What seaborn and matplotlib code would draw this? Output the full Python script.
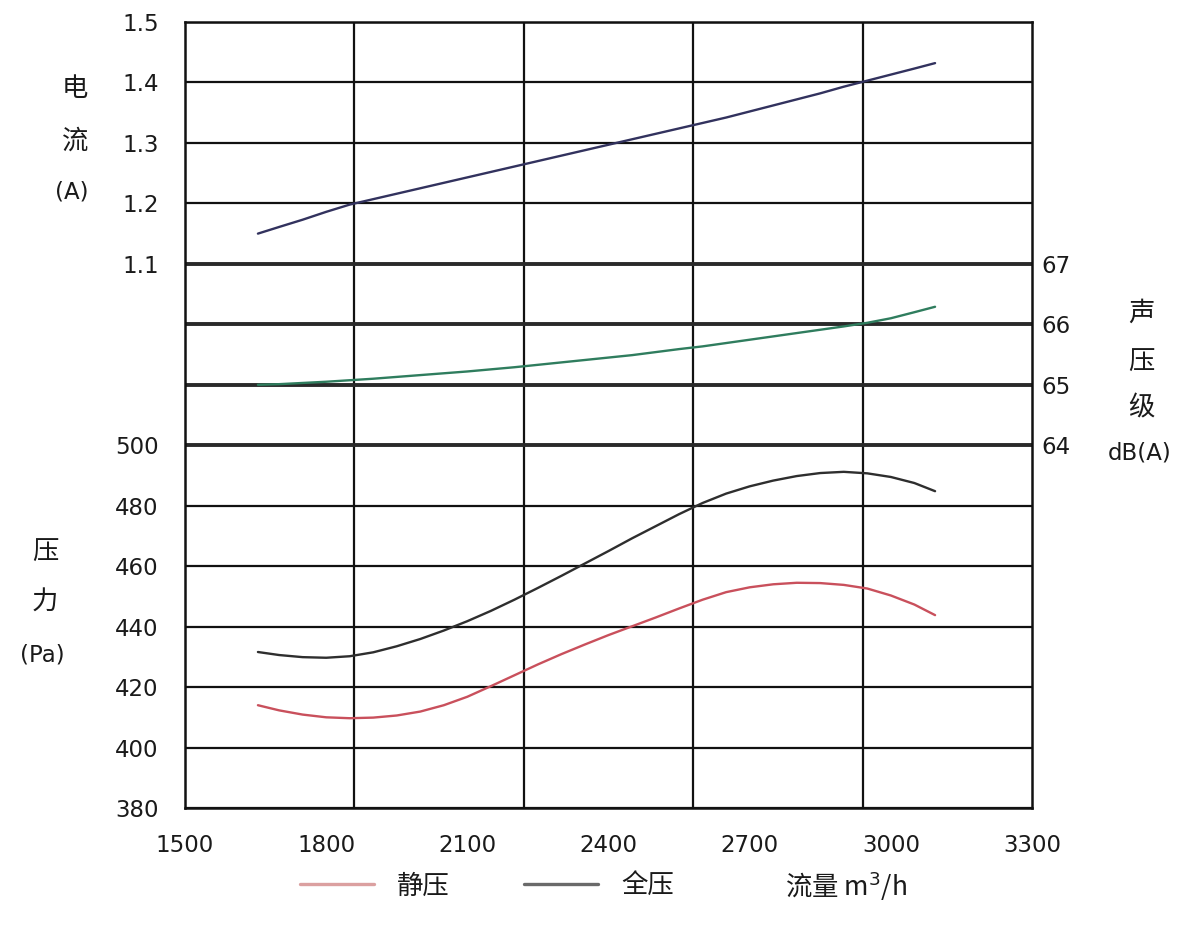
import numpy as np
import matplotlib
matplotlib.use("Agg")
import matplotlib.pyplot as plt
from matplotlib.ticker import FixedLocator
import seaborn as sns

# 流量 m3/h
flow = [1655, 1700, 1750, 1800, 1850, 1900, 1950, 2000, 2050, 2100,
        2150, 2200, 2250, 2300, 2350, 2400, 2450, 2500, 2550, 2600,
        2650, 2700, 2750, 2800, 2850, 2900, 2950, 3000, 3050, 3094]
# 电流 (A)
current = [1.150, 1.161, 1.173, 1.186, 1.198, 1.207, 1.216, 1.225, 1.234, 1.243,
           1.252, 1.261, 1.270, 1.279, 1.288, 1.297, 1.306, 1.315, 1.324, 1.333,
           1.342, 1.352, 1.362, 1.372, 1.382, 1.393, 1.403, 1.413, 1.423, 1.432]
# 声压级 dB(A)
sound = [65.00, 65.01, 65.03, 65.05, 65.075, 65.10, 65.13, 65.16, 65.19, 65.22,
         65.255, 65.29, 65.33, 65.37, 65.41, 65.45, 65.49, 65.54, 65.59, 65.635,
         65.69, 65.745, 65.80, 65.855, 65.91, 65.965, 66.025, 66.10, 66.20, 66.29]
# 全压 (Pa)
total_p = [431.6, 430.6, 429.9, 429.7, 430.2, 431.5, 433.5, 435.9, 438.7, 441.8,
           445.2, 448.9, 452.8, 456.8, 460.9, 465.0, 469.2, 473.2, 477.2, 480.9,
           484.0, 486.4, 488.3, 489.8, 490.8, 491.2, 490.7, 489.5, 487.5, 484.8]
# 静压 (Pa)
static_p = [414.0, 412.3, 410.9, 410.0, 409.7, 409.9, 410.6, 411.9, 414.0, 416.8,
            420.3, 423.9, 427.5, 430.9, 434.1, 437.2, 440.1, 443.0, 446.0, 448.9,
            451.4, 453.0, 454.0, 454.5, 454.4, 453.8, 452.6, 450.3, 447.3, 443.8]

x_ticks = [1500, 1800, 2100, 2400, 2700, 3000, 3300]
p_ticks = [380, 400, 420, 440, 460, 480, 500]
i_ticks = [1.1, 1.2, 1.3, 1.4, 1.5]
s_ticks = [64, 65, 66, 67]

sns.set_theme(style="white")
plt.rcParams['font.family'] = ['DejaVu Sans', 'Noto Sans CJK SC']
cjk = ['Noto Sans CJK SC', 'DejaVu Sans']
txt = '#1a1a1a'

fig = plt.figure(figsize=(12, 9.27), dpi=100)
ax = fig.add_axes([185 / 1200, 1 - 808 / 927, 847 / 1200, 786 / 927])

# pressure axis: 13 rows of 20 Pa, top rows shared with current / sound
ax.set_xlim(1500, 3300)
ax.set_ylim(380, 640)
grid_rows = list(range(380, 641, 20))
ax.set_yticks(grid_rows)
ax.set_yticklabels([str(v) if v in p_ticks else "" for v in grid_rows])
ax.set_xticks(x_ticks)
ax.set_xticklabels([str(v) for v in x_ticks])
ax.xaxis.set_minor_locator(FixedLocator(np.linspace(1500, 3300, 6)[1:-1]))
ax.grid(axis='y', which='major', color='#111111', lw=1.6)
ax.grid(axis='x', which='minor', color='#111111', lw=1.6)
ax.grid(axis='x', which='major', visible=False)
for line, val in zip(ax.get_ygridlines(), grid_rows):
    if 500 <= val <= 560:
        line.set_linewidth(2.8)
        line.set_color('#2a2a2a')
ax.set_axisbelow(True)
ax.tick_params(axis='y', which='both', length=0, pad=19, labelsize=16.5, colors=txt)
ax.tick_params(axis='x', which='both', length=0, pad=19, labelsize=16.5, colors=txt)
for sp in ax.spines.values():
    sp.set_color('#111111')
    sp.set_linewidth(1.8)

sns.lineplot(x=flow, y=static_p, ax=ax, color='#c9505c', lw=1.7, label='静压')
sns.lineplot(x=flow, y=total_p, ax=ax, color='#2e2e2e', lw=1.7, label='全压')
handles, labels = ax.get_legend_handles_labels()
ax.get_legend().remove()
handles = [plt.Line2D([], [], color='#dba0a0', lw=2.4),
           plt.Line2D([], [], color='#6a6a6a', lw=2.4)]

# current axis, labels on the left
ax_i = ax.twinx()
ax_i.set_ylim(0.2, 1.5)
ax_i.yaxis.tick_left()
ax_i.set_yticks(i_ticks)
ax_i.set_yticklabels([f"{v:.1f}" for v in i_ticks])
ax_i.tick_params(axis='y', length=0, pad=19, labelsize=16.5, colors=txt)
ax_i.grid(False)
for sp in ax_i.spines.values():
    sp.set_visible(False)
sns.lineplot(x=flow, y=current, ax=ax_i, color='#32325e', lw=1.7)

# sound pressure level axis, labels on the right
ax_s = ax.twinx()
ax_s.set_ylim(58, 71)
ax_s.set_yticks(s_ticks)
ax_s.set_yticklabels([str(v) for v in s_ticks])
ax_s.tick_params(axis='y', length=0, pad=7, labelsize=16.5, colors=txt)
ax_s.grid(False)
for sp in ax_s.spines.values():
    sp.set_visible(False)
sns.lineplot(x=flow, y=sound, ax=ax_s, color='#2f7d5e', lw=1.7)


def px_text(x, y, s, **kw):
    fig.text(x / 1200, 1 - y / 927, s, ha='center', va='center', color=txt, **kw)


px_text(75, 89, "电", family=cjk, fontsize=19)
px_text(75, 141, "流", family=cjk, fontsize=19)
px_text(72, 192, "(A)", fontsize=16.5)
px_text(45, 552, "压", family=cjk, fontsize=19)
px_text(45, 602, "力", family=cjk, fontsize=19)
px_text(42, 655, "(Pa)", fontsize=16.5)
px_text(1141, 313, "声", family=cjk, fontsize=19)
px_text(1141, 362, "压", family=cjk, fontsize=19)
px_text(1141, 408, "级", family=cjk, fontsize=19)
px_text(1140, 453, "dB(A)", fontsize=16.5)

fig.legend(handles, labels, loc='center', bbox_to_anchor=(487 / 1200, 1 - 886 / 927), ncol=2,
           frameon=False, handlelength=2.8, handletextpad=0.9, columnspacing=2.8,
           prop={'family': cjk, 'size': 19}, labelcolor=txt)
px_text(846, 886, "流量 m$^3$/h", family=cjk, fontsize=19)

fig.savefig("out.png", dpi=100, facecolor='white')
